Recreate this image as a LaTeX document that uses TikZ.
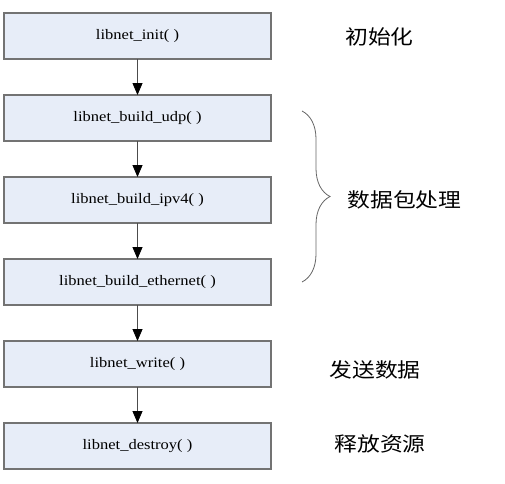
\documentclass[tikz,border=0pt]{standalone}
\usepackage{fontspec}
\setmainfont{Liberation Serif}
\newfontfamily\cjk{Noto Sans CJK SC}
\usepackage{tikz}
\usetikzlibrary{positioning,arrows.meta,decorations.pathreplacing}
\definecolor{boxfill}{HTML}{E7EDF8}
\tikzset{
	funcbox/.style={draw=gray!90!black,line width=1.2pt,fill=boxfill,minimum width=267pt,minimum height=46pt,inner sep=0pt,outer sep=0pt},
	flow/.style={draw=gray!60!black,line width=0.8pt,-{Triangle[length=12pt,width=10pt,color=black]}},
	zhlabel/.style={font=\cjk\fontsize{20}{22}\selectfont,inner sep=0pt},
}
% stretch the text a little wider, as in the picture
\newcommand{\wide}[1]{\scalebox{1.14}[1]{#1}}

\begin{document}
\begin{tikzpicture}[x=1pt,y=-1pt,font=\fontsize{14.5}{16}\selectfont]
		\useasboundingbox (0,0) rectangle (505,483);
		
		% boxes of the call chain
		\node[funcbox] (init) at (137.5,36) {\wide{libnet\_init( )}};
		\node[funcbox,below=36pt of init] (udp) {\wide{libnet\_build\_udp( )}};
		\node[funcbox,below=36pt of udp] (ipv) {\wide{libnet\_build\_ipv4( )}};
		\node[funcbox,below=36pt of ipv] (eth) {\wide{libnet\_build\_ethernet( )}};
		\node[funcbox,below=36pt of eth] (write) {\wide{libnet\_write( )}};
		\node[funcbox,below=36pt of write] (destroy) {\wide{libnet\_destroy( )}};
		
		% arrows between boxes
		\draw[flow] (init) -- (udp);
		\draw[flow] (udp) -- (ipv);
		\draw[flow] (ipv) -- (eth);
		\draw[flow] (eth) -- (write);
		\draw[flow] (write) -- (destroy);
		
		% brace round the three build steps
		\draw[gray!80!black,line width=0.8pt,decorate,decoration={brace,amplitude=28pt}] (302,111) -- (302,282);
		
		% stage labels
		\node[zhlabel] (linit) at (379.5,37) {\wide{初始化}};
		\node[zhlabel] (lbuild) at (404.5,200) {\wide{数据包处理}};
		\node[zhlabel] (lwrite) at (375,370) {\wide{发送数据}};
		\node[zhlabel] (lfree) at (380,444) {\wide{释放资源}};
		
\end{tikzpicture}
\end{document}
